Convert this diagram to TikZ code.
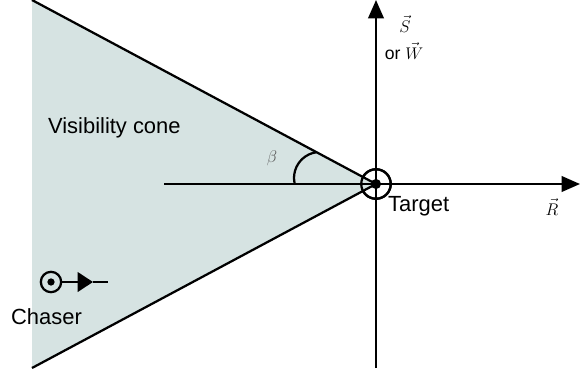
\documentclass[tikz,border=0pt]{standalone}
\usepackage{fontspec}
\setsansfont{Liberation Sans}
\usetikzlibrary{arrows.meta}
\definecolor{conefill}{RGB}{214,227,226}
\definecolor{betagray}{RGB}{85,85,85}

\begin{document}
\begin{tikzpicture}[x=0.025cm,y=-0.025cm,font=\sffamily\fontsize{15.6}{18}\selectfont,line width=1.6pt,
  axis/.style={-{Triangle[length=13pt,width=11pt]}},
  vlabel/.style={font=\sffamily\fontsize{12.5}{14}\selectfont,inner sep=0.5pt},
  ring/.style={draw,circle,inner sep=0pt}]
\useasboundingbox (0,0) rectangle (580,377);
% cone and its edges
\coordinate (conetop) at (32,0);
\coordinate (conebot) at (32,368);
\node[ring,minimum size=21pt] (target) at (376,184) {};
\fill[conefill] (conetop) -- (target.center) -- (conebot) -- cycle;
\node[ring,minimum size=21pt] at (target.center) {};
\fill (target.center) circle (3.6pt);
\draw (conetop) -- (target.center) -- (conebot);
% axes
\coordinate (vbot) at (376,368);
\coordinate (vtop) at (376,0);
\coordinate (hstart) at (164,184);
\coordinate (hend) at (580,184);
\draw[axis] (vbot) -- (vtop);
\draw[axis] (hstart) -- (hend);
\draw (294.7,183.8) arc[start angle=167,end angle=262,radius=26];
% chaser
\node[ring,minimum size=14.5pt] (chaser) at (51,282) {};
\fill (chaser.center) circle (2.6pt);
\coordinate (chtip) at (93,282);
\coordinate (chend) at (108,282);
\draw[-{Triangle[length=11pt,width=14pt]}] (chaser) -- (chtip);
\draw (chtip) -- (chend);
% labels
\node[anchor=base west,inner sep=0pt] (conelbl) at (47,133) {Visibility cone};
\node[anchor=base west,inner sep=0pt] (targetlbl) at (387,211) {Target};
\node[anchor=base west,inner sep=0pt] (chaserlbl) at (10,324) {Chaser};
\node[vlabel] (slbl) at (405,24) {$\vec{S}$};
\node[vlabel] (wlbl) at (404,51) {or $\vec{W}$};
\node[vlabel,text=betagray] (betalbl) at (272,158) {$\beta$};
\node[vlabel] (rlbl) at (552,207) {$\vec{R}$};
\end{tikzpicture}
\end{document}
